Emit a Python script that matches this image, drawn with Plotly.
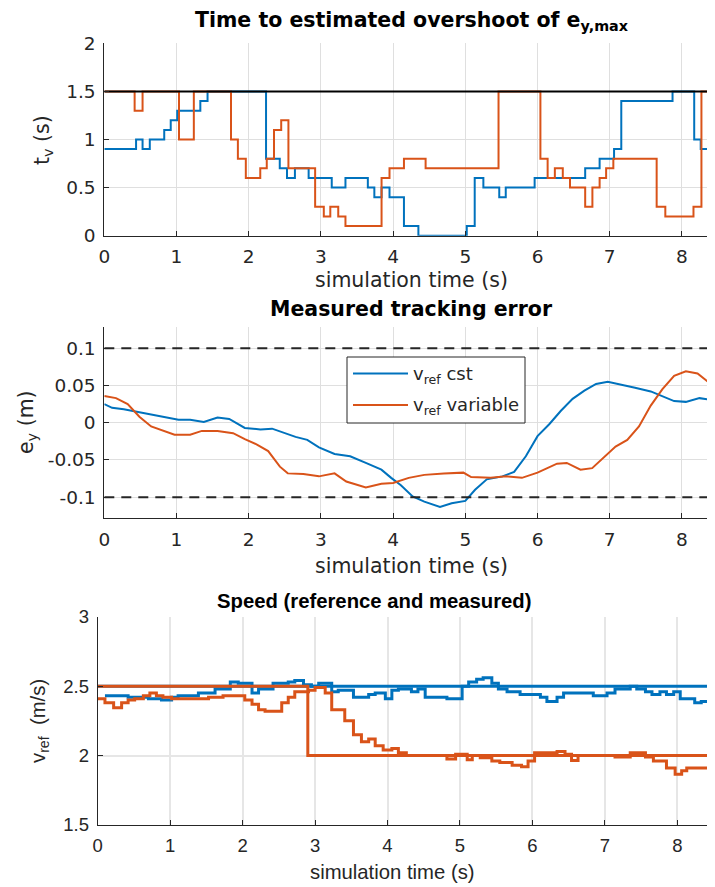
import plotly.graph_objects as go

# ---------------- data ----------------
# Top: time to estimated overshoot (step data: start time of each step, value)
t_top_cst = [0, 0.44, 0.53, 0.63, 0.83, 0.92, 1.01, 1.33, 1.43, 2.24, 2.43, 2.53, 2.64, 2.83,
             3.15, 3.34, 3.65, 3.74, 3.84, 3.95, 4.15, 4.35, 5.02, 5.13, 5.25, 5.47, 5.56,
             5.96, 6.66, 6.86, 7.06, 7.16, 7.87, 8.17, 8.26, 8.5]
tv_cst = [0.9, 1.0, 0.9, 1.0, 1.1, 1.2, 1.3, 1.4, 1.5, 0.8, 0.7, 0.6, 0.7, 0.6,
          0.5, 0.6, 0.5, 0.4, 0.5, 0.4, 0.1, 0.0, 0.1, 0.6, 0.5, 0.4, 0.5,
          0.6, 0.7, 0.8, 0.9, 1.4, 1.5, 1.0, 0.9, 0.9]
t_top_var = [0, 0.42, 0.53, 1.035, 1.24, 1.755, 1.85, 1.96, 2.16, 2.25, 2.35, 2.45, 2.55, 2.92,
             3.04, 3.13, 3.24, 3.34, 3.84, 3.95, 4.15, 4.45, 5.46, 6.04, 6.14, 6.24, 6.35,
             6.45, 6.66, 6.76, 6.86, 6.95, 7.05, 7.65, 7.77, 8.16, 8.27, 8.5]
tv_var = [1.5, 1.3, 1.5, 1.0, 1.5, 1.0, 0.8, 0.6, 0.7, 0.8, 1.1, 1.2, 0.7, 0.3,
          0.2, 0.3, 0.2, 0.1, 0.6, 0.7, 0.8, 0.7, 1.5, 0.8, 0.6, 0.7, 0.6,
          0.5, 0.3, 0.5, 0.6, 0.7, 0.8, 0.3, 0.2, 0.3, 1.5, 1.5]
tv_limit = 1.5

# Middle: measured tracking error
t_mid_cst = [0, 0.108, 0.27, 0.378, 0.54, 0.703, 0.865, 1.027, 1.189, 1.378, 1.568, 1.73, 1.946,
             2.162, 2.324, 2.486, 2.649, 2.811, 2.973, 3.189, 3.405, 3.622, 3.838, 3.973, 4.108,
             4.27, 4.432, 4.649, 4.811, 5.0, 5.135, 5.297, 5.514, 5.676, 5.838, 6.0, 6.162,
             6.324, 6.486, 6.649, 6.811, 6.973, 7.135, 7.351, 7.568, 7.73, 7.892, 8.054, 8.243, 8.45]
ey_cst = [0.025, 0.02, 0.018, 0.016, 0.014, 0.011, 0.007, 0.004, 0.004, 0.001, 0.007, 0.005, -0.007,
          -0.009, -0.008, -0.014, -0.019, -0.023, -0.033, -0.042, -0.045, -0.054, -0.063, -0.074, -0.084,
          -0.099, -0.106, -0.113, -0.108, -0.105, -0.090, -0.076, -0.072, -0.066, -0.045, -0.018, -0.002,
          0.016, 0.032, 0.043, 0.052, 0.055, 0.052, 0.047, 0.042, 0.036, 0.029, 0.028, 0.033, 0.030]
t_mid_var = [0, 0.162, 0.324, 0.486, 0.649, 0.811, 0.973, 1.189, 1.351, 1.568, 1.784, 1.946, 2.108,
             2.27, 2.432, 2.541, 2.757, 2.973, 3.189, 3.351, 3.622, 3.838, 4.0, 4.216, 4.432, 4.703,
             4.973, 5.081, 5.351, 5.568, 5.784, 6.0, 6.27, 6.405, 6.595, 6.757, 6.919, 7.081, 7.243,
             7.405, 7.568, 7.73, 7.892, 8.054, 8.216, 8.45]
ey_var = [0.036, 0.033, 0.025, 0.008, -0.005, -0.011, -0.016, -0.016, -0.011, -0.011, -0.014, -0.022, -0.029,
          -0.038, -0.059, -0.068, -0.069, -0.072, -0.068, -0.079, -0.087, -0.082, -0.081, -0.074, -0.070, -0.068,
          -0.067, -0.073, -0.074, -0.072, -0.074, -0.067, -0.055, -0.054, -0.063, -0.061, -0.047, -0.032, -0.023,
          -0.005, 0.023, 0.045, 0.063, 0.069, 0.066, 0.048]
ey_bound = 0.1
legend_labels = ["v<sub>ref</sub> cst", "v<sub>ref</sub> variable"]

# Bottom: speed (reference and measured), step data
t_ref_cst = [0, 8.55]
v_ref_cst = [2.5, 2.5]
t_ref_var = [0, 2.9, 8.55]
v_ref_var = [2.5, 2.0, 2.0]
t_meas_cst = [0.10, 0.42, 0.70, 0.88, 1.02, 1.11, 1.39, 1.62, 1.83, 1.94, 2.13, 2.22, 2.42, 2.63, 2.72,
              2.84, 2.95, 3.05, 3.23, 3.32, 3.53, 3.74, 3.83, 3.97, 4.06, 4.15, 4.33, 4.42, 4.52, 4.82,
              5.03, 5.12, 5.23, 5.32, 5.44, 5.53, 5.65, 5.83, 6.11, 6.20, 6.34, 6.43, 6.84, 7.03, 7.14,
              7.35, 7.44, 7.56, 7.65, 7.76, 7.85, 7.95, 8.04, 8.24, 8.33, 8.45, 8.55]
v_meas_cst = [2.43, 2.42, 2.41, 2.40, 2.42, 2.43, 2.45, 2.48, 2.53, 2.52, 2.45, 2.48, 2.52, 2.53, 2.54,
              2.51, 2.50, 2.52, 2.46, 2.47, 2.42, 2.44, 2.45, 2.41, 2.47, 2.48, 2.46, 2.48, 2.42, 2.41,
              2.50, 2.53, 2.55, 2.56, 2.52, 2.48, 2.46, 2.44, 2.42, 2.39, 2.42, 2.45, 2.43, 2.45, 2.48,
              2.50, 2.48, 2.46, 2.44, 2.46, 2.44, 2.46, 2.41, 2.38, 2.39, 2.37, 2.37]
t_meas_var = [0, 0.10, 0.22, 0.33, 0.42, 0.51, 0.63, 0.72, 0.81, 0.90, 1.02, 1.53, 1.73, 2.03, 2.13,
              2.22, 2.31, 2.54, 2.63, 2.72, 2.91, 3.00, 3.14, 3.23, 3.41, 3.53, 3.64, 3.74, 3.83, 3.94,
              4.06, 4.15, 4.26, 4.82, 4.94, 5.10, 5.17, 5.28, 5.44, 5.55, 5.72, 5.85, 5.94, 6.03, 6.34,
              6.45, 6.54, 6.63, 7.14, 7.35, 7.56, 7.67, 7.85, 7.97, 8.06, 8.13, 8.55]
v_meas_var = [2.41, 2.38, 2.345, 2.38, 2.40, 2.41, 2.43, 2.45, 2.43, 2.42, 2.41, 2.42, 2.43, 2.40, 2.37,
              2.33, 2.32, 2.38, 2.42, 2.46, 2.47, 2.49, 2.45, 2.33, 2.25, 2.15, 2.10, 2.12, 2.07, 2.04,
              2.05, 2.02, 2.00, 1.975, 2.01, 1.97, 2.00, 1.985, 1.96, 1.95, 1.93, 1.92, 1.96, 2.02, 2.03,
              2.01, 1.965, 2.00, 1.99, 2.02, 1.99, 1.96, 1.91, 1.865, 1.89, 1.91, 1.91]

x_ticks = list(range(0, 9))

BLUE = "#0072BD"
ORANGE = "#D95319"
AX = "#262626"
GRID = "#dfdfdf"
OFF = 8                      # page body margin
W, H = 715 - OFF, 887 - OFF  # figure size so that it fills the window

fig = go.Figure()

# ---------- top ----------
fig.add_trace(go.Scatter(x=t_top_cst, y=tv_cst, mode="lines", line=dict(color=BLUE, width=2, shape="hv"),
                         xaxis="x", yaxis="y", showlegend=False))
fig.add_trace(go.Scatter(x=t_top_var, y=tv_var, mode="lines", line=dict(color=ORANGE, width=2, shape="hv"),
                         xaxis="x", yaxis="y", showlegend=False))
fig.add_trace(go.Scatter(x=[0, 8.6], y=[tv_limit, tv_limit], mode="lines", line=dict(color="black", width=2),
                         xaxis="x", yaxis="y", showlegend=False))

# ---------- middle ----------
fig.add_trace(go.Scatter(x=t_mid_cst, y=ey_cst, mode="lines", line=dict(color=BLUE, width=2),
                         xaxis="x2", yaxis="y2", name=legend_labels[0], showlegend=False))
fig.add_trace(go.Scatter(x=t_mid_var, y=ey_var, mode="lines", line=dict(color=ORANGE, width=2),
                         xaxis="x2", yaxis="y2", name=legend_labels[1], showlegend=False))
for b in (ey_bound, -ey_bound):
    fig.add_trace(go.Scatter(x=[0, 8.6], y=[b, b], mode="lines",
                             line=dict(color=AX, width=2, dash="10px,7px"),
                             xaxis="x2", yaxis="y2", showlegend=False))

# ---------- bottom ----------
fig.add_trace(go.Scatter(x=t_ref_cst, y=v_ref_cst, mode="lines", line=dict(color=BLUE, width=3),
                         xaxis="x3", yaxis="y3", showlegend=False))
fig.add_trace(go.Scatter(x=t_meas_cst, y=v_meas_cst, mode="lines", line=dict(color=BLUE, width=3, shape="hv"),
                         xaxis="x3", yaxis="y3", showlegend=False))
fig.add_trace(go.Scatter(x=t_ref_var, y=v_ref_var, mode="lines", line=dict(color=ORANGE, width=3, shape="hv"),
                         xaxis="x3", yaxis="y3", showlegend=False))
fig.add_trace(go.Scatter(x=t_meas_var, y=v_meas_var, mode="lines", line=dict(color=ORANGE, width=3, shape="hv"),
                         xaxis="x3", yaxis="y3", showlegend=False))

def px_x(p):
    return (p - OFF) / W

def px_y(p):
    return 1 - (p - OFF) / H

DV = "DejaVu Sans"
LS = "Liberation Sans"

def xax(dom, rng, font, anchor, gw=1, gc=GRID):
    return dict(domain=dom, range=rng, tickvals=x_ticks, ticktext=[str(v) for v in x_ticks],
                showgrid=True, gridcolor=gc, gridwidth=gw, zeroline=False, automargin=False,
                showline=True, linecolor=AX, linewidth=1, ticks="inside", ticklen=5, tickcolor=AX,
                tickfont=dict(family=font, size=18.5, color=AX), anchor=anchor, ticklabelstandoff=4)

def yax(dom, rng, tv, tt, font, anchor, gw=1, gc=GRID):
    return dict(domain=dom, range=rng, tickvals=tv, ticktext=tt,
                showgrid=True, gridcolor=gc, gridwidth=gw, zeroline=False, automargin=False,
                showline=True, linecolor=AX, linewidth=1, ticks="inside", ticklen=5, tickcolor=AX,
                tickfont=dict(family=font, size=18.5, color=AX), anchor=anchor, ticklabelstandoff=4)

fig.update_layout(
    width=W, height=H, margin=dict(l=0, r=0, t=0, b=0, autoexpand=False),
    paper_bgcolor="white", plot_bgcolor="white", showlegend=False,
    xaxis=xax([px_x(104.3), 1], [0, 8.458], DV, "y"),
    yaxis=yax([px_y(235.7), px_y(43.3)], [0, 2], [0, 0.5, 1, 1.5, 2], ["0", "0.5", "1", "1.5", "2"], DV, "x"),
    xaxis2=xax([px_x(104.3), 1], [0, 8.458], DV, "y2"),
    yaxis2=yax([px_y(518.3), px_y(326.7)], [-0.1283, 0.1289], [-0.1, -0.05, 0, 0.05, 0.1],
               ["-0.1", "-0.05", "0", "0.05", "0.1"], DV, "x2"),
    xaxis3=xax([px_x(97.7), 1], [0, 8.52], LS, "y3", gw=2, gc="#e6e6e6"),
    yaxis3=yax([px_y(825), px_y(616.7)], [1.5, 3], [1.5, 2, 2.5, 3], ["1.5", "2", "2.5", "3"], LS, "x3",
               gw=2, gc="#e6e6e6"),
)

# manual legend box for middle panel
shapes = [
    dict(type="rect", xref="paper", yref="paper", x0=px_x(347), x1=px_x(525), y0=px_y(423), y1=px_y(357),
         line=dict(color=AX, width=1), fillcolor="white", layer="above"),
    dict(type="line", xref="paper", yref="paper", x0=px_x(353), x1=px_x(408), y0=px_y(373.5), y1=px_y(373.5),
         line=dict(color=BLUE, width=2), layer="above"),
    dict(type="line", xref="paper", yref="paper", x0=px_x(353), x1=px_x(408), y0=px_y(405), y1=px_y(405),
         line=dict(color=ORANGE, width=2), layer="above"),
]
fig.update_layout(shapes=shapes)

ann = []
def text(x, y, s, font, size, angle=0, color="black", xanchor="center"):
    ann.append(dict(x=px_x(x), y=px_y(y), xref="paper", yref="paper", text=s, showarrow=False,
                    xanchor=xanchor, yanchor="middle", textangle=angle,
                    font=dict(family=font, size=size, color=color)))

text(412, 21, "<b>Time to estimated overshoot of e<sub>y,max</sub></b>", DV, 20.5)
text(43, 140, "t<sub>v</sub> (s)", DV, 20.5, angle=-90, color=AX)
text(411, 280, "simulation time (s)", DV, 20.5, color=AX)

text(411, 309, "<b>Measured tracking error</b>", DV, 20.5)
text(27, 422, "e<sub>y</sub> (m)", DV, 20.5, angle=-90, color=AX)
text(411, 566, "simulation time (s)", DV, 20.5, color=AX)
text(411, 375, legend_labels[0], DV, 18, color=AX, xanchor="left")
text(411, 406, legend_labels[1], DV, 18, color=AX, xanchor="left")

text(374, 601, "<b>Speed (reference and measured)</b>", LS, 20.3)
text(39, 721, "v<sub>ref</sub>  (m/s)", LS, 20.3, angle=-90, color=AX)
text(392, 872, "simulation time (s)", LS, 20.3, color=AX)

fig.update_layout(annotations=ann)
fig.write_html("out.html")
